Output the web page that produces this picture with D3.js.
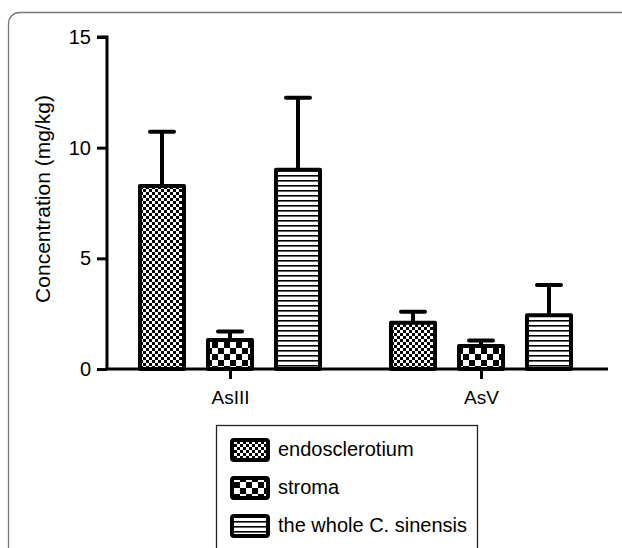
<!DOCTYPE html>
<html>
<head>
<meta charset="utf-8">
<script src="https://cdn.jsdelivr.net/npm/d3@7"></script>
<style>
  body { margin: 0; background: #fff; }
  svg { display: block; font-family: "Liberation Sans", Arial, sans-serif; }
</style>
</head>
<body>
<div id="chart"></div>
<script>
const categories = ["AsIII", "AsV"];
const seriesNames = ["endosclerotium", "stroma", "the whole C. sinensis"];
const means = [
  [8.27, 1.31, 9.0],   // AsIII
  [2.09, 1.04, 2.43]   // AsV
];
const errors = [
  [2.45, 0.38, 3.25],
  [0.50, 0.25, 1.37]
];
const yTicks = [0, 5, 10, 15];

const width = 622;
const height = 548;

const svg = d3.select("#chart")
  .append("svg")
  .attr("width", width)
  .attr("height", height);

// fill patterns
const defs = svg.append("defs");

const fine = defs.append("pattern")
  .attr("id", "p0").attr("patternUnits", "userSpaceOnUse")
  .attr("width", 6).attr("height", 6);
fine.append("rect").attr("width", 6).attr("height", 6).attr("fill", "#fff");
fine.append("rect").attr("width", 3).attr("height", 3).attr("fill", "#000");
fine.append("rect").attr("x", 3).attr("y", 3).attr("width", 3).attr("height", 3).attr("fill", "#000");

const coarse = defs.append("pattern")
  .attr("id", "p1").attr("patternUnits", "userSpaceOnUse")
  .attr("width", 12).attr("height", 12);
coarse.append("rect").attr("width", 12).attr("height", 12).attr("fill", "#fff");
coarse.append("rect").attr("width", 6).attr("height", 6).attr("fill", "#000");
coarse.append("rect").attr("x", 6).attr("y", 6).attr("width", 6).attr("height", 6).attr("fill", "#000");

const lines = defs.append("pattern")
  .attr("id", "p2").attr("patternUnits", "userSpaceOnUse")
  .attr("width", 8).attr("height", 5);
lines.append("rect").attr("width", 8).attr("height", 5).attr("fill", "#fff");
lines.append("rect").attr("y", 0).attr("width", 8).attr("height", 1.6).attr("fill", "#000");

// outer frame
svg.append("rect")
  .attr("x", 8.5).attr("y", 12.5)
  .attr("width", 640).attr("height", 560)
  .attr("rx", 11)
  .attr("fill", "none")
  .attr("stroke", "#777")
  .attr("stroke-width", 1.3);

const y = d3.scaleLinear()
  .domain([0, 15])
  .range([369, 37]);

const xc = d3.scalePoint()
  .domain(categories)
  .range([230, 481]);

const x1 = d3.scaleBand()
  .domain(seriesNames)
  .range([-92, 92])
  .paddingInner(0.294);

const g = svg.append("g");

const groups = g.selectAll(".grp")
  .data(categories)
  .join("g")
  .attr("class", "grp")
  .attr("transform", d => `translate(${xc(d)},0)`);

groups.each(function(cat, ci) {
  const grp = d3.select(this);
  seriesNames.forEach((s, si) => {
    const bx = x1(s);
    const bw = x1.bandwidth();
    const cx = bx + bw / 2;
    const top = y(means[ci][si]);
    const errTop = y(means[ci][si] + errors[ci][si]);
    grp.append("line")
      .attr("x1", cx).attr("x2", cx)
      .attr("y1", top).attr("y2", errTop)
      .attr("stroke", "#000").attr("stroke-width", 4);
    grp.append("line")
      .attr("x1", cx - 12).attr("x2", cx + 12)
      .attr("y1", errTop).attr("y2", errTop)
      .attr("stroke", "#000").attr("stroke-width", 4)
      .attr("stroke-linecap", "round");
    grp.append("rect")
      .attr("x", bx + 2).attr("y", top)
      .attr("width", bw - 4).attr("height", y(0) - top)
      .attr("fill", `url(#p${si})`)
      .attr("stroke", "#000").attr("stroke-width", 4)
      .attr("stroke-linejoin", "round");
  });
});

// y axis
const ya = svg.append("g")
  .attr("transform", "translate(107,0)")
  .call(d3.axisLeft(y).tickValues(yTicks).tickSize(10).tickPadding(6));
ya.select(".domain").attr("stroke-width", 3).attr("d", `M-10,${y(15)}H0V${y(0)}`);
ya.selectAll(".tick line").attr("stroke-width", 3);
ya.selectAll(".tick text").attr("font-size", 20).attr("fill", "#000");

// x axis
const xa = svg.append("g")
  .attr("transform", `translate(0,${y(0)})`)
  .call(d3.axisBottom(xc).tickSize(10).tickPadding(8));
xa.select(".domain").attr("stroke-width", 3).attr("d", "M105.5,0H608");
xa.selectAll(".tick line").attr("stroke-width", 3);
xa.selectAll(".tick text").attr("font-size", 19).attr("fill", "#000")
  .attr("dy", null).attr("y", 35);

// y title
svg.append("text")
  .attr("transform", "translate(50,199) rotate(-90)")
  .attr("text-anchor", "middle")
  .attr("font-size", 21)
  .text("Concentration (mg/kg)");

// legend
const legend = svg.append("g");
legend.append("rect")
  .attr("x", 216.5).attr("y", 425.5)
  .attr("width", 261).attr("height", 140)
  .attr("fill", "#fff")
  .attr("stroke", "#222").attr("stroke-width", 1.3);

const ly = d3.scalePoint()
  .domain(seriesNames)
  .range([450, 526]);

const items = legend.selectAll(".item")
  .data(seriesNames)
  .join("g")
  .attr("class", "item")
  .attr("transform", d => `translate(0,${ly(d)})`);

items.append("rect")
  .attr("x", 232).attr("y", -10)
  .attr("width", 36).attr("height", 20)
  .attr("rx", 2)
  .attr("fill", (d, i) => `url(#p${i})`)
  .attr("stroke", "#000").attr("stroke-width", 4);

items.append("text")
  .attr("x", 278).attr("y", 6)
  .attr("font-size", 20)
  .text(d => d);
</script>
</body>
</html>
